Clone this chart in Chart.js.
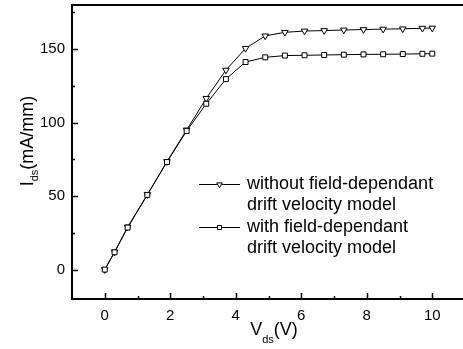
<!DOCTYPE html>
<html>
<head>
<meta charset="utf-8">
<script src="https://cdn.jsdelivr.net/npm/chart.js@4.4.0/dist/chart.umd.min.js"></script>
<style>
html,body{margin:0;padding:0;background:#fff;overflow:hidden;width:463px;height:349px;}
#wrap{width:470px;height:349px;}
</style>
</head>
<body>
<div id="wrap"><canvas id="c" width="470" height="349"></canvas></div>
<script>
const vds = [0, 0.3, 0.7, 1.3, 1.9, 2.5, 3.1, 3.7, 4.3, 4.9, 5.5, 6.1, 6.7, 7.3, 7.9, 8.5, 9.1, 9.7, 10];
const idsWithout = [0, 12, 29, 51, 73.5, 95, 116.5, 135.7, 150.5, 159, 161.4, 162.3, 162.6, 163, 163.3, 163.6, 163.8, 164.2, 164.3];
const idsWith = [0, 11.8, 28.6, 50.8, 73.2, 94.3, 112.8, 129.6, 141.2, 144.4, 145.6, 145.8, 146, 146.2, 146.4, 146.5, 146.6, 146.8, 146.9];
const xTicks = [0, 2, 4, 6, 8, 10];
const xMinor = [1, 3, 5, 7, 9];
const yTicks = [0, 50, 100, 150];
const yMinor = [25, 75, 125, 175];
const legendWithout = ["without field-dependant", "drift velocity model"];
const legendWith = ["with field-dependant", "drift velocity model"];

const FONT = "'Liberation Sans', Arial, sans-serif";

function pts(ys){ return vds.map((x,i)=>({x:x, y:ys[i]})); }

const framePlugin = {
  id: 'frame',
  afterDraw(chart){
    const ctx = chart.ctx;
    const a = chart.chartArea;
    const xs = chart.scales.x, ys = chart.scales.y;
    ctx.save();
    ctx.strokeStyle = '#000';
    ctx.lineWidth = 2;
    ctx.strokeRect(a.left, a.top, a.right - a.left, a.bottom - a.top);
    ctx.lineWidth = 1.5;
    ctx.beginPath();
    xTicks.forEach(v=>{ const p = Math.round(xs.getPixelForValue(v))+0.5; ctx.moveTo(p, a.bottom); ctx.lineTo(p, a.bottom-6); });
    xMinor.forEach(v=>{ const p = Math.round(xs.getPixelForValue(v))+0.5; ctx.moveTo(p, a.bottom); ctx.lineTo(p, a.bottom-3); });
    yTicks.forEach(v=>{ const p = Math.round(ys.getPixelForValue(v))+0.5; ctx.moveTo(a.left, p); ctx.lineTo(a.left+6, p); });
    yMinor.forEach(v=>{ const p = Math.round(ys.getPixelForValue(v))+0.5; ctx.moveTo(a.left, p); ctx.lineTo(a.left+3, p); });
    ctx.stroke();

    // axis titles
    ctx.fillStyle = '#000';
    ctx.textBaseline = 'alphabetic';
    const big = "18px " + FONT, small = "11px " + FONT;
    ctx.font = big; const wV = ctx.measureText('V').width; const wP = ctx.measureText('(V)').width;
    ctx.font = small; const wS = ctx.measureText('ds').width;
    const total = wV + wS + wP;
    let x0 = 274 - total/2;
    ctx.font = big; ctx.textAlign = 'left';
    ctx.fillText('V', x0, 335);
    ctx.font = small; ctx.fillText('ds', x0 + wV, 343);
    ctx.font = big; ctx.fillText('(V)', x0 + wV + wS, 335);

    ctx.save();
    ctx.translate(33, 141);
    ctx.rotate(-Math.PI/2);
    ctx.font = big; const wI = ctx.measureText('I').width; const wU = ctx.measureText('(mA/mm)').width;
    ctx.font = small; const wD = ctx.measureText('ds').width;
    const tY = wI + wD + wU;
    let s = -tY/2;
    ctx.font = big; ctx.fillText('I', s, 0);
    ctx.font = small; ctx.fillText('ds', s + wI, 5);
    ctx.font = big; ctx.fillText('(mA/mm)', s + wI + wD, 0);
    ctx.restore();

    // legend
    const entries = [
      {lines: legendWithout, style: 'triangle', rot: 180, r: 3.2, y: 184},
      {lines: legendWith, style: 'rect', rot: 0, r: 2.8, y: 227}
    ];
    entries.forEach(e=>{
      ctx.strokeStyle = '#000'; ctx.lineWidth = 1;
      ctx.beginPath(); ctx.moveTo(199, e.y+0.5); ctx.lineTo(240, e.y+0.5); ctx.stroke();
      ctx.fillStyle = '#fff';
      Chart.helpers.drawPoint(ctx, {pointStyle: e.style, radius: e.r, rotation: e.rot, borderWidth: 1}, 219.5, e.y+0.5);
      ctx.fillStyle = '#000';
      ctx.font = "18px " + FONT;
      ctx.textBaseline = 'middle';
      ctx.textAlign = 'left';
      e.lines.forEach((t,i)=> ctx.fillText(t, 247, e.y + i*21));
    });
    ctx.restore();
  }
};

new Chart(document.getElementById('c'), {
  type: 'scatter',
  data: {
    datasets: [
      { label: 'with field-dependant drift velocity model', data: pts(idsWith), showLine: true,
        borderColor: '#000', borderWidth: 1, pointStyle: 'rect', pointRadius: 3.5,
        pointBackgroundColor: '#fff', pointBorderColor: '#000', pointBorderWidth: 1 },
      { label: 'without field-dependant drift velocity model', data: pts(idsWithout), showLine: true,
        borderColor: '#000', borderWidth: 1, pointStyle: 'triangle', pointRotation: 180, pointRadius: 3.8,
        pointBackgroundColor: '#fff', pointBorderColor: '#000', pointBorderWidth: 1 }
    ]
  },
  options: {
    responsive: false,
    animation: false,
    devicePixelRatio: 1,
    layout: { padding: { top: 5, right: 2.4, left: 0, bottom: 0 } },
    plugins: { legend: { display: false }, tooltip: { enabled: false } },
    scales: {
      x: {
        type: 'linear', min: -1, max: 11,
        grid: { display: false, drawTicks: false },
        border: { display: false },
        ticks: { color: '#000', font: { family: FONT, size: 15 }, padding: 8, maxRotation: 0 },
        afterBuildTicks(scale){ scale.ticks = xTicks.map(v=>({value:v})); },
        afterFit(scale){ scale.height = 50; scale.paddingLeft = 0; scale.paddingRight = 0; }
      },
      y: {
        type: 'linear', min: -20, max: 180,
        grid: { display: false, drawTicks: false },
        border: { display: false },
        ticks: { color: '#000', font: { family: FONT, size: 15 }, padding: 7 },
        afterBuildTicks(scale){ scale.ticks = yTicks.map(v=>({value:v})); },
        afterFit(scale){ scale.width = 72; scale.paddingTop = 0; scale.paddingBottom = 0; }
      }
    }
  },
  plugins: [framePlugin]
});
</script>
</body>
</html>
